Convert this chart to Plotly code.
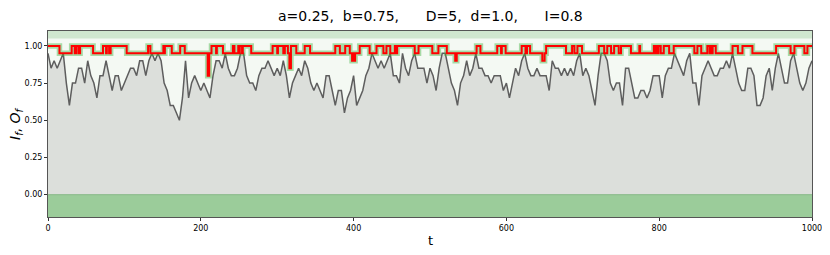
import plotly.graph_objects as go

# ---- data ----
t_in = list(range(0, 1001, 4))
I_f = [0.95, 0.85, 0.9, 0.85, 0.9, 0.95, 0.75, 0.6, 0.75, 0.75,
       0.85, 0.85, 0.75, 0.9, 0.8, 0.75, 0.65, 0.8, 0.8, 0.9,
       0.8, 0.7, 0.8, 0.8, 0.7, 0.75, 0.8, 0.85, 0.85, 0.8,
       0.9, 0.9, 0.8, 0.9, 0.95, 0.9, 0.95, 0.9, 0.75, 0.7,
       0.6, 0.6, 0.55, 0.5, 0.65, 0.9, 0.65, 0.75, 0.8, 0.75,
       0.7, 0.75, 0.7, 0.65, 0.8, 0.9, 0.9, 0.85, 0.95, 0.85,
       0.8, 0.8, 0.85, 0.95, 0.95, 0.8, 0.75, 0.75, 0.7, 0.8,
       0.85, 0.85, 0.9, 0.85, 0.8, 0.85, 0.8, 0.9, 0.8, 0.65,
       0.75, 0.8, 0.85, 0.8, 0.9, 0.85, 0.75, 0.7, 0.75, 0.7,
       0.65, 0.8, 0.8, 0.7, 0.6, 0.7, 0.7, 0.55, 0.65, 0.7,
       0.8, 0.6, 0.65, 0.7, 0.8, 0.85, 0.95, 0.9, 0.85, 0.9,
       0.85, 0.9, 0.95, 0.8, 0.8, 0.75, 0.95, 0.85, 0.8, 0.9,
       0.95, 0.85, 0.85, 0.85, 0.75, 0.85, 0.8, 0.7, 0.85, 0.95,
       0.95, 0.85, 0.75, 0.7, 0.6, 0.75, 0.8, 0.9, 0.8, 0.85,
       0.95, 0.85, 0.85, 0.8, 0.8, 0.75, 0.8, 0.8, 0.8, 0.7,
       0.75, 0.65, 0.75, 0.85, 0.8, 0.9, 0.95, 0.85, 0.8, 0.8,
       0.85, 0.8, 0.8, 0.8, 0.7, 0.9, 0.85, 0.85, 0.8, 0.85,
       0.8, 0.85, 0.8, 0.9, 0.95, 0.8, 0.85, 0.8, 0.7, 0.6,
       0.8, 0.95, 0.95, 0.9, 0.75, 0.7, 0.75, 0.75, 0.6, 0.85,
       0.85, 0.75, 0.65, 0.65, 0.7, 0.7, 0.65, 0.7, 0.8, 0.8,
       0.8, 0.65, 0.8, 0.85, 0.85, 0.95, 0.9, 0.85, 0.8, 0.9,
       0.95, 0.75, 0.75, 0.6, 0.8, 0.85, 0.9, 0.85, 0.8, 0.8,
       0.85, 0.85, 0.9, 0.85, 0.95, 0.85, 0.75, 0.7, 0.7, 0.85,
       0.85, 0.8, 0.6, 0.6, 0.65, 0.8, 0.85, 0.7, 0.85, 0.95,
       0.85, 0.75, 0.75, 0.9, 0.95, 0.85, 0.75, 0.7, 0.75, 0.85,
       0.9]

O_t = [0, 15, 31, 35, 37, 40, 42, 59, 72, 76, 77, 80, 82, 103, 131, 134,
       151, 152, 153, 162, 173, 179, 209, 211, 214, 220, 221, 229, 242, 244,
       249, 250, 251, 254, 255, 266, 294, 300, 301, 308, 310, 314, 316, 318,
       325, 336, 343, 376, 382, 389, 395, 398, 399, 401, 402, 404, 408, 421,
       430, 439, 443, 448, 454, 456, 457, 480, 485, 503, 511, 522, 533, 535,
       561, 566, 588, 593, 594, 599, 620, 625, 627, 631, 647, 650, 652, 678,
       686, 689, 693, 699, 721, 728, 732, 737, 741, 747, 750, 763, 774, 775,
       793, 795, 796, 798, 799, 802, 806, 813, 819, 846, 850, 855, 863, 866,
       867, 869, 870, 874, 896, 903, 909, 922, 953, 972, 977, 990, 994, 1000]
O_f = [1.0, 0.95, 1.0, 0.95, 1.0, 0.95, 1.0, 0.95, 1.0, 0.95, 1.0, 0.95, 1.0, 0.95, 1.0, 0.95,
       1.0, 0.95, 1.0, 0.95, 1.0, 0.95, 0.8, 0.95, 1.0, 0.95, 1.0, 0.95, 1.0, 0.95,
       1.0, 0.95, 1.0, 0.95, 1.0, 0.95, 1.0, 0.95, 1.0, 0.95, 1.0, 0.95, 0.85, 1.0,
       0.95, 1.0, 0.95, 1.0, 0.95, 1.0, 0.95, 0.9, 0.95, 0.9, 0.95, 0.95, 1.0, 0.95,
       1.0, 0.95, 1.0, 0.95, 1.0, 0.95, 1.0, 0.95, 1.0, 0.95, 1.0, 0.95, 0.9, 0.95,
       1.0, 0.95, 1.0, 0.95, 1.0, 0.95, 1.0, 0.95, 1.0, 0.95, 0.9, 0.95, 1.0, 0.95,
       1.0, 0.95, 1.0, 0.95, 1.0, 0.95, 1.0, 0.95, 1.0, 0.95, 1.0, 0.95, 1.0, 0.95,
       1.0, 0.95, 1.0, 0.95, 1.0, 0.95, 1.0, 0.95, 1.0, 0.95, 1.0, 0.95, 1.0, 0.95,
       1.0, 0.95, 1.0, 0.95, 1.0, 0.95, 1.0, 0.95, 1.0, 0.95, 1.0, 0.95, 1.0, 1.0]

NB = "\u00a0"
title_text = ("a=0.25," + NB * 2 + "b=0.75," + NB * 6 + "D=5," + NB * 2
              + "d=1.0," + NB * 6 + "I=0.8")
x_ticks = [0, 200, 400, 600, 800, 1000]
y_ticks = [0.0, 0.25, 0.5, 0.75, 1.0]
y_range = [-0.15, 1.1]

W, H = 822, 247  # page body adds an 8px offset

fig = go.Figure()

# background bands
fig.add_hrect(y0=-0.15, y1=0.0, fillcolor="#9bcc9a", line_width=0, layer="below")
fig.add_hrect(y0=1.05, y1=1.1, fillcolor="#d0e7cf", line_width=0, layer="below")

fig.add_trace(go.Scatter(x=t_in, y=I_f, mode="lines", fill="tozeroy",
                         fillcolor="#dcdfdb", line=dict(color="#5e5e5e", width=1.5),
                         showlegend=False, hoverinfo="skip"))
fig.add_trace(go.Scatter(x=O_t, y=O_f, mode="lines", line_shape="hv",
                         line=dict(color="rgba(70,180,70,0.45)", width=5.5),
                         showlegend=False, hoverinfo="skip"))
fig.add_trace(go.Scatter(x=O_t, y=O_f, mode="lines", line_shape="hv",
                         line=dict(color="#ff0000", width=2),
                         showlegend=False, hoverinfo="skip"))

fig.add_shape(type="line", xref="paper", x0=0, x1=1, y0=0, y1=0,
              line=dict(color="#86b886", width=1))

fig.add_annotation(text="<i>I<sub>f</sub></i>, <i>O<sub>f</sub></i>",
                   xref="paper", yref="paper", x=0, y=0.5, xshift=-32,
                   textangle=-90, showarrow=False, xanchor="center", yanchor="middle",
                   font=dict(size=14, family="DejaVu Sans"))
fig.add_annotation(text="t", xref="paper", yref="paper", x=0.5, y=0, yshift=-23,
                   showarrow=False, xanchor="center", yanchor="middle",
                   font=dict(size=13, family="DejaVu Sans"))
fig.add_annotation(text=title_text, xref="paper", yref="paper", x=0.5, y=1,
                   yshift=15, showarrow=False, xanchor="center", yanchor="middle",
                   font=dict(size=14, family="DejaVu Sans"))

fig.update_layout(
    width=W, height=H,
    margin=dict(l=40, r=18, t=23, b=38, autoexpand=False),
    paper_bgcolor="white",
    plot_bgcolor="#f4f9f3",
    font=dict(family="DejaVu Sans", color="#000000"),
)
fig.update_xaxes(range=[0, 1000], tickvals=x_ticks, ticks="outside", ticklen=3,
                 tickcolor="#333", tickfont=dict(size=8), showgrid=False,
                 zeroline=False, showline=True, linecolor="#555", linewidth=1,
                 mirror=True, automargin=False)
fig.update_yaxes(range=y_range, tickvals=y_ticks, tickformat=".2f", ticks="outside",
                 ticklen=3, tickcolor="#333", tickfont=dict(size=8), showgrid=False,
                 zeroline=False, showline=True, linecolor="#555", linewidth=1,
                 mirror=True, automargin=False)

fig.write_html("out.html")
